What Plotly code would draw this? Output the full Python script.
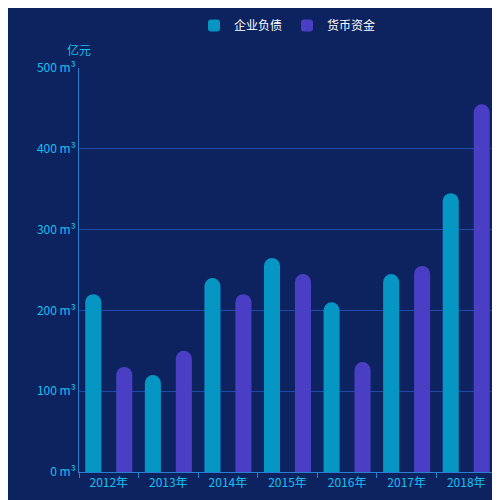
import plotly.graph_objects as go

years = ["2012年", "2013年", "2014年", "2015年", "2016年", "2017年", "2018年"]
debt = [220, 120, 240, 265, 210, 245, 345]
money = [130, 150, 220, 245, 136, 255, 455]
yticks = [0, 100, 200, 300, 400, 500]
ytext = [f"{v} m³" for v in yticks]

fig = go.Figure()
fig.add_bar(x=years, y=debt, name="企业负债", width=0.27, offset=-0.395,
            marker=dict(color="#0596c4", cornerradius=8, line_width=0))
fig.add_bar(x=years, y=money, name="货币资金", width=0.27, offset=0.125,
            marker=dict(color="#4a3fc4", cornerradius=8, line_width=0))

fig.update_layout(
    width=500, height=500, paper_bgcolor="#0c2360", plot_bgcolor="#0c2360",
    margin=dict(l=71, r=12, t=60, b=36, autoexpand=False),
    font=dict(family="Noto Sans CJK SC", size=12, color="#18c0f0"),
    showlegend=True,
    legend=dict(orientation="h", x=0.5, xanchor="center", y=0.965, yanchor="middle",
                yref="container", font=dict(color="white", size=12)),
    xaxis=dict(showline=True, linecolor="#2a7fd0", ticks="outside", tickson="boundaries",
               tickcolor="#2a7fd0", ticklen=5, showgrid=False, automargin=False,
               range=[-0.5, 6.5]),
    yaxis=dict(range=[0, 500], tickvals=yticks, ticktext=ytext, showline=True,
               linecolor="#2a7fd0", gridcolor="#1f4aa8", zeroline=False, ticks="",
               automargin=False),
    annotations=[dict(text="亿元", xref="paper", yref="paper", x=0, y=1.02,
                      xanchor="center", yanchor="bottom", showarrow=False,
                      font=dict(color="#18c0f0", size=12))],
)
fig.write_html("out.html")
